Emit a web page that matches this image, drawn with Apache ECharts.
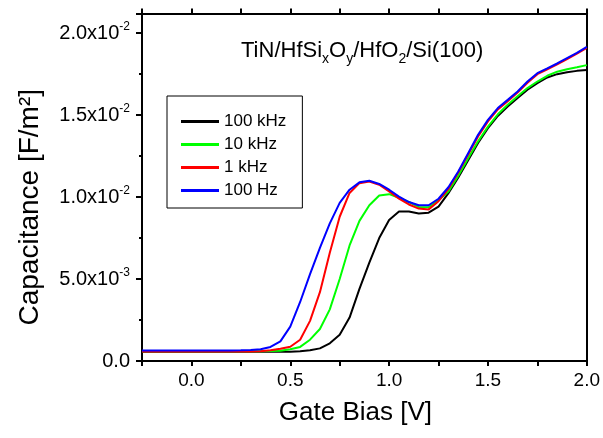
<!DOCTYPE html>
<html>
<head>
<meta charset="utf-8">
<script src="https://cdn.jsdelivr.net/npm/echarts@6/dist/echarts.min.js"></script>
<style>html,body{margin:0;padding:0;background:#fff;}#chart{width:603px;height:438px;}</style>
</head>
<body>
<div id="chart"></div>
<script>
// Gate bias [V]
const gateBias = [-0.25,-0.20,-0.15,-0.10,-0.05,0.00,0.05,0.10,0.15,0.20,0.25,0.30,0.35,0.40,0.45,0.50,0.55,0.60,0.65,0.70,0.75,0.80,0.85,0.90,0.95,1.00,1.05,1.10,1.15,1.20,1.25,1.30,1.35,1.40,1.45,1.50,1.55,1.60,1.65,1.70,1.75,1.80,1.85,1.90,1.95,2.00];
// Capacitance in units of 1e-3 F/m^2
const cap100kHz = [0.56,0.56,0.56,0.56,0.56,0.56,0.56,0.56,0.56,0.56,0.56,0.56,0.56,0.56,0.57,0.57,0.60,0.65,0.77,1.08,1.60,2.65,4.40,6.00,7.50,8.60,9.12,9.12,9.00,9.05,9.42,10.24,11.20,12.25,13.30,14.20,14.95,15.52,16.05,16.55,16.95,17.30,17.50,17.62,17.70,17.75];
const cap10kHz = [0.60,0.60,0.60,0.60,0.60,0.60,0.60,0.60,0.60,0.60,0.60,0.60,0.60,0.61,0.63,0.72,0.86,1.30,1.95,3.15,5.00,7.05,8.55,9.50,10.10,10.18,9.95,9.70,9.40,9.38,9.80,10.34,11.30,12.37,13.40,14.30,15.05,15.63,16.15,16.65,17.05,17.40,17.65,17.80,17.92,18.05];
const cap1kHz = [0.58,0.58,0.58,0.58,0.58,0.58,0.58,0.58,0.58,0.58,0.58,0.58,0.60,0.65,0.75,0.87,1.30,2.45,4.20,6.60,8.80,10.25,10.85,10.95,10.75,10.35,9.90,9.55,9.30,9.25,9.75,10.50,11.50,12.60,13.70,14.62,15.35,15.85,16.38,16.98,17.50,17.80,18.10,18.42,18.75,19.10];
const cap100Hz = [0.64,0.64,0.64,0.64,0.64,0.64,0.64,0.64,0.64,0.64,0.65,0.67,0.72,0.86,1.20,2.10,3.60,5.30,6.90,8.40,9.65,10.45,10.90,11.00,10.80,10.45,10.03,9.70,9.50,9.50,9.90,10.60,11.56,12.68,13.80,14.71,15.43,15.93,16.44,17.05,17.56,17.85,18.15,18.48,18.80,19.17];
const seriesNames = ['100 kHz','10 kHz','1 kHz','100 Hz'];
const seriesColors = ['#000000','#00ff00','#ff0000','#0000ff'];
const seriesValues = [cap100kHz, cap10kHz, cap1kHz, cap100Hz];

const FONT = '"Liberation Sans", Arial, sans-serif';
const chart = echarts.init(document.getElementById('chart'), null, {renderer:'canvas'});

function yLabel(v){
  if (Math.abs(v/5 - Math.round(v/5)) > 1e-6) return '';
  if (v === 0) return '{a|0.0}';
  const val = v*1e-3;
  const e = Math.floor(Math.log10(val) + 1e-9);
  const m = (val/Math.pow(10,e)).toFixed(1);
  return '{a|' + m + 'x10}{s|' + e + '}';
}
function xLabel(v){
  if (Math.abs(v*2 - Math.round(v*2)) > 1e-6) return '';
  return v.toFixed(1);
}

const series = seriesNames.map((n,i)=>({
  name:n, type:'line', showSymbol:false, symbol:'none', animation:false,
  data: gateBias.map((x,j)=>[x, seriesValues[i][j]]),
  lineStyle:{color:seriesColors[i], width:2},
  itemStyle:{color:seriesColors[i]},
  z: 2+i
}));

chart.setOption({
  backgroundColor:'#fff',
  animation:false,
  textStyle:{fontFamily:FONT},
  title:{
    text:'{a|TiN/HfSi}{s|x}{a|O}{s|y}{a|/HfO}{s|2}{a|/Si(100)}',
    left:236, top:31,
    textStyle:{fontWeight:'normal', rich:{
      a:{fontSize:22, fontWeight:'normal', color:'#000', fontFamily:FONT, lineHeight:30},
      s:{fontSize:14, fontWeight:'normal', color:'#000', fontFamily:FONT, lineHeight:14, verticalAlign:'bottom'}
    }}
  },
  legend:{
    data:seriesNames.map(n=>({name:n, icon:'rect'})), orient:'vertical', left:167, top:96,
    itemWidth:38, itemHeight:3, itemGap:6,
    padding:[17,16,9,14],
    borderColor:'#000', borderWidth:1,
    itemStyle:{borderWidth:0},
    textStyle:{fontSize:17, color:'#000', fontFamily:FONT, lineHeight:14},
  },
  grid:{left:142, right:15, top:13.5, bottom:77, containLabel:false},
  xAxis:[{
    type:'value', min:-0.25, max:2, interval:0.25, position:'bottom',
    axisLine:{onZero:false, lineStyle:{color:'#000', width:2}},
    axisTick:{inside:false, length:5, lineStyle:{color:'#000', width:2}},
    axisLabel:{formatter:xLabel, fontSize:19, color:'#000', margin:10, fontFamily:FONT},
    splitLine:{show:false},
    name:'Gate Bias [V]', nameLocation:'middle', nameGap:39,
    nameTextStyle:{fontSize:26, color:'#000', fontFamily:FONT, padding:[0,18,0,0]}
  },{
    type:'value', min:-0.25, max:2, interval:0.25, position:'top',
    axisLine:{onZero:false, lineStyle:{color:'#000', width:2}},
    axisTick:{inside:false, length:5, lineStyle:{color:'#000', width:2}},
    axisLabel:{show:false}, splitLine:{show:false}
  }],
  yAxis:[{
    type:'value', min:0, max:21.2, interval:5, position:'left',
    axisLine:{onZero:false, lineStyle:{color:'#000', width:2}},
    axisTick:{inside:false, length:6, lineStyle:{color:'#000', width:2}},
    minorTick:{show:true, splitNumber:2, length:3, lineStyle:{color:'#000', width:2}},
    axisLabel:{formatter:yLabel, color:'#000', margin:12, showMaxLabel:false,
      rich:{
        a:{fontSize:20, color:'#000', fontFamily:FONT, lineHeight:24},
        s:{fontSize:12, color:'#000', fontFamily:FONT, lineHeight:12, verticalAlign:'top'}
      }},
    splitLine:{show:false}, minorSplitLine:{show:false},
    name:'Capacitance [F/m\u00b2]', nameLocation:'middle', nameGap:98, nameRotate:90,
    nameTextStyle:{fontSize:28, color:'#000', fontFamily:FONT, padding:[0,40,0,0]}
  },{
    type:'value', min:0, max:21.2, interval:5, position:'right',
    axisLine:{onZero:false, lineStyle:{color:'#000', width:2}},
    axisTick:{show:false}, axisLabel:{show:false}, splitLine:{show:false}
  }],
  series: series
});
</script>
</body>
</html>
